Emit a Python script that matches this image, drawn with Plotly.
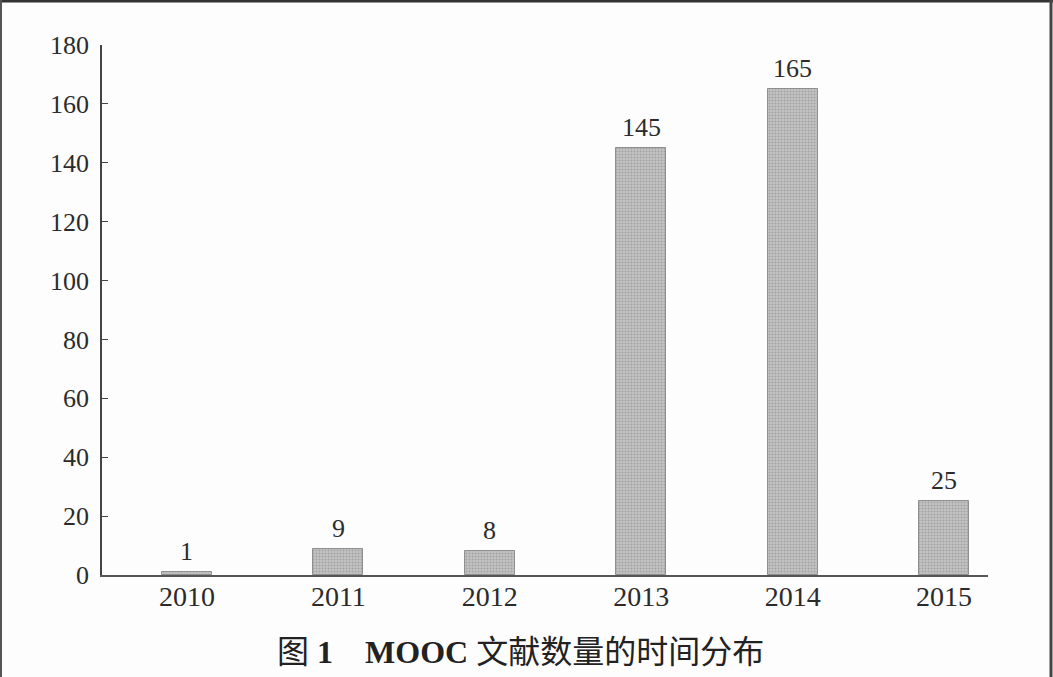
import plotly.graph_objects as go

years = ["2010", "2011", "2012", "2013", "2014", "2015"]
counts = [1, 9, 8, 145, 165, 25]
y_ticks = [0, 20, 40, 60, 80, 100, 120, 140, 160, 180]
title_text = "图 <b>1</b>　<b>MOOC</b> 文献数量的时间分布"

W, H = 1053, 677
L, R, T, B = 102, 65, 45, 102
pw, ph = W - L - R, H - T - B

def px_x(p):
    return (p - L) / pw

def px_y(p):
    return (H - B - p) / ph

xpos = list(range(len(years)))
serif = "Liberation Serif, Times New Roman, serif"
ink = "#2b2b2b"

fig = go.Figure()
fig.add_trace(go.Bar(
    x=xpos, y=counts, width=0.33,
    cliponaxis=False,
    marker=dict(color="#b8b8b8", line=dict(color="#8f8f8f", width=1),
                pattern=dict(shape=".", fgcolor="#7c7c7c", bgcolor="#c4c4c4",
                             size=3, solidity=0.35)),
))

annotations = [
    dict(x=xi, y=c, xref="x", yref="y", text=str(c), showarrow=False,
         yanchor="bottom", xanchor="center", yshift=4,
         font=dict(family=serif, size=26, color=ink))
    for xi, c in zip(xpos, counts)
]
annotations.append(dict(
    text=title_text, xref="paper", yref="paper",
    x=px_x(520), y=px_y(652), xanchor="center", yanchor="middle",
    showarrow=False,
    font=dict(family="Liberation Serif, Noto Sans CJK SC", size=32, color="#222"),
))

fig.update_layout(
    width=W, height=H,
    margin=dict(l=L, r=R, t=T, b=B),
    paper_bgcolor="#fdfdfd", plot_bgcolor="#fdfdfd",
    showlegend=False, bargap=0,
    font=dict(family=serif, color=ink),
    xaxis=dict(range=[-0.561, 5.29], tickvals=xpos, ticktext=years,
               showgrid=False, zeroline=False, showline=True,
               linecolor="#555", linewidth=2, ticks="",
               tickfont=dict(family=serif, size=28, color=ink),
               ticklabelstandoff=-5),
    yaxis=dict(range=[0, 180], tickvals=y_ticks, showgrid=False, zeroline=False,
               showline=True, linecolor="#444", linewidth=1.5,
               ticks="inside", ticklen=6, tickcolor="#444",
               tickfont=dict(family=serif, size=26, color=ink),
               ticklabelstandoff=6),
    annotations=annotations,
    shapes=[
        dict(type="line", xref="paper", yref="paper", x0=px_x(0), x1=px_x(W),
             y0=px_y(1), y1=px_y(1), line=dict(color="#333", width=3)),
        dict(type="line", xref="paper", yref="paper", x0=px_x(1), x1=px_x(1),
             y0=px_y(0), y1=px_y(H), line=dict(color="#555", width=2)),
        dict(type="line", xref="paper", yref="paper", x0=px_x(1051), x1=px_x(1051),
             y0=px_y(0), y1=px_y(H), line=dict(color="#444", width=3)),
    ],
)

fig.write_html("out.html", config={"displayModeBar": False},
               post_script="document.body.style.margin='0';document.body.style.overflow='hidden';")
